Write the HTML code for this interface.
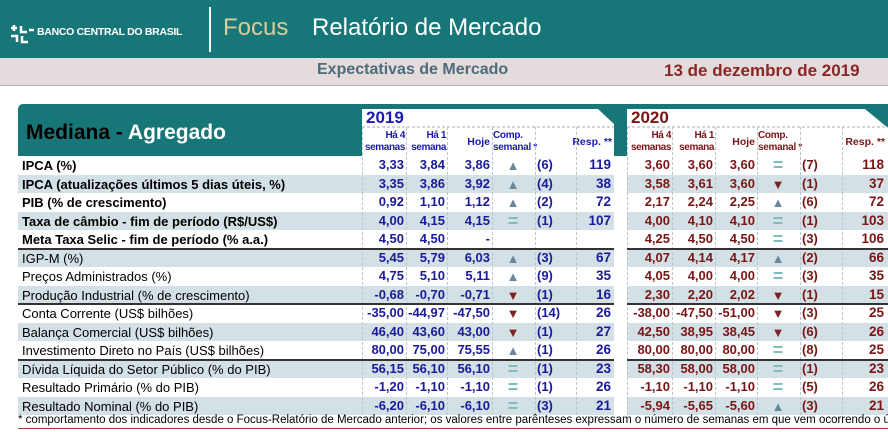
<!DOCTYPE html>
<html><head><meta charset="utf-8">
<style>
body{margin:0;width:888px;height:432px;overflow:hidden;background:#fff;font-family:"Liberation Sans",sans-serif;position:relative}
.a{position:absolute;white-space:nowrap}
.num{font-weight:bold;font-size:13px;text-align:right}
</style></head><body>
<div class="a" style="left:0;top:0;width:888px;height:58px;background:#177778"></div>
<svg class="a" style="left:8px;top:22px" width="28" height="24" viewBox="0 0 28 24"><g fill="none" stroke="#fff" stroke-width="2.5"><path d="M3 6h6M6 3v6M13 4v6h6M3 14h6v6M14 14v6h6M21 8h5"/></g></svg>
<div class="a" style="left:37px;top:26px;color:#fff;font-weight:bold;font-size:10.5px;letter-spacing:-0.3px">BANCO CENTRAL DO BRASIL</div>
<div class="a" style="left:209px;top:7px;width:2px;height:45px;background:#fff"></div>
<div class="a" style="left:223px;top:14px;color:#d9cc9b;font-size:24px">Focus</div>
<div class="a" style="left:312px;top:14px;color:#fff;font-size:24px">Relatório de Mercado</div>
<div class="a" style="left:0;top:58px;width:888px;height:27px;background:#e4dcdc;border-bottom:1px solid #b8b0b0"></div>
<div class="a" style="left:317px;top:61px;color:#4e6b7a;font-weight:bold;font-size:16px">Expectativas de Mercado</div>
<div class="a" style="left:664px;top:61px;color:#8b2626;font-weight:bold;font-size:17px">13 de dezembro de 2019</div>

<div class="a" style="left:18px;top:104px;width:870px;height:52px;background:#177778;border-radius:5px 0 0 0"></div>
<div class="a" style="left:26px;top:121px;font-weight:bold;font-size:21px;color:#000">Mediana - <span style="color:#fff">Agregado</span></div>
<svg class="a" style="left:0;top:0" width="888" height="160">
<polygon points="362,109 598,109 614,124 614,156 362,156" fill="#fff"/>
<polygon points="627,109 865,109 888,128 888,156 627,156" fill="#fff"/>
<line x1="362" y1="127" x2="614" y2="127" stroke="#aaa" stroke-dasharray="3,2"/>
<line x1="627" y1="127" x2="888" y2="127" stroke="#aaa" stroke-dasharray="3,2"/>
</svg>
<div class="a" style="left:366px;top:108px;color:#1a1ab0;font-weight:bold;font-size:17px">2019</div>
<div class="a" style="left:631px;top:108px;color:#7a1515;font-weight:bold;font-size:17px">2020</div>
<div id="tbl"></div>
<div class="a" style="left:18px;top:414px;width:870px;overflow:hidden;font-size:11.5px;color:#000">* comportamento dos indicadores desde o Focus-Relatório de Mercado anterior; os valores entre parênteses expressam o número de semanas em que vem ocorrendo o último comportamento</div>
<div class="a" style="left:18px;top:428px;width:870px;height:1px;background:#a04040"></div>
<script>
const labels=["IPCA (%)","IPCA (atualizações últimos 5 dias úteis, %)","PIB (% de crescimento)","Taxa de câmbio - fim de período (R$/US$)","Meta Taxa Selic - fim de período (% a.a.)","IGP-M (%)","Preços Administrados (%)","Produção Industrial (% de crescimento)","Conta Corrente (US$ bilhões)","Balança Comercial (US$ bilhões)","Investimento Direto no País (US$ bilhões)","Dívida Líquida do Setor Público (% do PIB)","Resultado Primário (% do PIB)","Resultado Nominal (% do PIB)"];
const h4_2019=["3,33","3,35","0,92","4,00","4,50","5,45","4,75","-0,68","-35,00","46,40","80,00","56,15","-1,20","-6,20"];
const h1_2019=["3,84","3,86","1,10","4,15","4,50","5,79","5,10","-0,70","-44,97","43,60","75,00","56,10","-1,10","-6,10"];
const hoje_2019=["3,86","3,92","1,12","4,15","-","6,03","5,11","-0,71","-47,50","43,00","75,55","56,10","-1,10","-6,10"];
const comp_2019=["up","up","up","eq","","up","up","down","down","down","up","eq","eq","eq"];
const weeks_2019=["(6)","(4)","(2)","(1)","","(3)","(9)","(1)","(14)","(1)","(1)","(1)","(1)","(3)"];
const resp_2019=["119","38","72","107","","67","35","16","26","27","26","23","26","21"];
const h4_2020=["3,60","3,58","2,17","4,00","4,25","4,07","4,05","2,30","-38,00","42,50","80,00","58,30","-1,10","-5,94"];
const h1_2020=["3,60","3,61","2,24","4,10","4,50","4,14","4,00","2,20","-47,50","38,95","80,00","58,00","-1,10","-5,65"];
const hoje_2020=["3,60","3,60","2,25","4,10","4,50","4,17","4,00","2,02","-51,00","38,45","80,00","58,00","-1,10","-5,60"];
const comp_2020=["eq","down","up","eq","eq","up","eq","down","down","down","eq","eq","eq","up"];
const weeks_2020=["(7)","(1)","(6)","(1)","(3)","(2)","(3)","(1)","(3)","(6)","(8)","(1)","(5)","(3)"];
const resp_2020=["118","37","72","103","106","66","35","15","25","26","25","23","26","21"];
const T=document.getElementById('tbl');
const top0=156,pitch=18.5;
function div(css,txt){const d=document.createElement('div');d.className='a';d.style.cssText=css;if(txt!==undefined)d.textContent=txt;T.appendChild(d);return d;}
function subh(s,col,yr){
  const cols=[[s[0],s[1],"Há 4","semanas"],[s[1],s[2],"Há 1","semana"]];
  cols.forEach((c,i)=>{const d=div(`left:${c[0]}px;top:130px;width:${c[1]-c[0]-1}px;text-align:right;font-size:10px;font-weight:bold;color:${col};line-height:12px;letter-spacing:-0.4px`);d.innerHTML=c[2]+'<br>'+c[3];
  
  });
  let d=div(`left:${s[3]-30}px;width:28px;text-align:right;top:136px;font-size:10.5px;font-weight:bold;color:${col}`,'Hoje');
  
  
  d=div(`left:${s[3]+1}px;top:130px;font-size:10px;font-weight:bold;color:${col};line-height:12px;letter-spacing:-0.3px`);d.innerHTML='Comp.<br>semanal *';
  
  
  d=div(`left:${s[6]-50}px;width:48px;text-align:right;top:136px;font-size:10.5px;font-weight:bold;color:${col}`,'Resp. **');
  
  
}
const blocks=[
 {yr:'2019',col:'#1a1a9a',h4:h4_2019,h1:h1_2019,hj:hoje_2019,cp:comp_2019,wk:weeks_2019,rs:resp_2019,seps:[362,406,447,492,535,576,614]},
 {yr:'2020',col:'#7a1515',h4:h4_2020,h1:h1_2020,hj:hoje_2020,cp:comp_2020,wk:weeks_2020,rs:resp_2020,seps:[627,672,715,757,800,842,887]}];
subh(blocks[0].seps,'#1a1ab0','2019');subh(blocks[1].seps,'#7a1515','2020');
labels.forEach((lab,i)=>{
  const y=top0+i*pitch;
  if(i%2===1){const s=div(`left:18px;top:${y}px;width:870px;height:${pitch}px;background:#d3e0e5`);
    
    
    const g=div(`left:614px;top:${y}px;width:13px;height:${pitch}px;background:#fff`);
    
    }
  const l=div(`left:22px;top:${y+2}px;font-size:13px;${i<5?'font-weight:bold;':''}color:#000`,lab);
  
  
  blocks.forEach(b=>{
    const s=b.seps;
    [[b.h4,s[1]],[b.h1,s[2]],[b.hj,s[3]]].forEach(([arr,r])=>{
      const d=div(`left:${r-60}px;top:${y+1}px;width:58px;color:${b.col}`,arr[i]);d.classList.add('num');
      
      });
    const c=b.cp[i];let g='',gc='';
    if(c==='up'){g='▲';gc='#6b879b';}else if(c==='down'){g='▼';gc='#7a2424';}else if(c==='eq'){g='=';gc='#7fbcbc';}
    if(g){const d=div(`left:${s[3]+9}px;top:${y+(c==='eq'?-1:2)}px;width:24px;text-align:center;color:${gc};font-size:${c==='eq'?18:13}px;font-weight:bold`,g);
      
      }
    let d=div(`left:${s[4]+2}px;top:${y+1}px;color:${b.col}`,b.wk[i]);d.classList.add('num');
    
    
    d=div(`left:${s[6]-62}px;top:${y+1}px;width:59px;color:${b.col};font-size:13.5px`,b.rs[i]);d.classList.add('num');
    
    
  });
});
blocks.forEach(b=>{b.seps.slice(0,6).forEach(x=>{const d=div(`left:${x}px;top:127px;width:0;height:${415-127}px;border-left:1px dashed #b9c6cc`);
  
  });});
[5,8,11].forEach(k=>{const y=top0+k*pitch-1;
  const a=div(`left:18px;top:${y}px;width:596px;height:2px;background:#333`);
  
  
  const c=div(`left:627px;top:${y}px;width:261px;height:2px;background:#333`);
  
  });
</script>
</body></html>
